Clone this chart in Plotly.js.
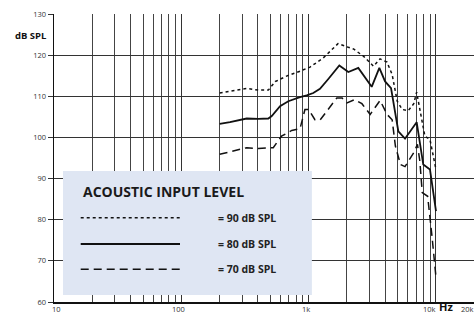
<!DOCTYPE html>
<html><head><meta charset="utf-8">
<script src="https://cdn.plot.ly/plotly-3.0.1.min.js"></script>
<style>html,body{margin:0;padding:0;background:#fff;}#chart{width:474px;height:315px;}</style>
</head><body><div id="chart"></div>
<script>
// 90 dB SPL input (dotted)
const freq90 = [200, 241, 326, 402, 482, 548, 670, 855, 1025, 1300, 1700, 2049, 2250, 2705, 3230, 3640, 4125, 4525, 4960, 5435, 6050, 6690, 7050, 7470, 8180, 8970, 10000];
const spl90  = [110.8, 111.2, 111.9, 111.5, 111.5, 113.6, 114.9, 116.1, 117.1, 119.3, 122.8, 121.9, 121.5, 119.7, 117.3, 119.1, 118.3, 115.3, 108.8, 106.8, 106.5, 108.2, 111.0, 106.8, 100.3, 99.5, 92.2];
// 80 dB SPL input (solid)
const freq80 = [200, 241, 326, 402, 482, 513, 596, 692, 855, 966, 1087, 1227, 1427, 1741, 2049, 2454, 3126, 3590, 3981, 4436, 5060, 5711, 7050, 7947, 8970, 10000];
const spl80  = [103.3, 103.7, 104.6, 104.5, 104.6, 105.2, 107.6, 108.8, 109.8, 110.2, 110.8, 111.8, 114.2, 117.5, 115.9, 116.9, 112.3, 116.9, 113.6, 112.0, 101.5, 99.7, 103.7, 93.4, 92.2, 82.1];
// 70 dB SPL input (dashed)
const freq70 = [200, 256, 326, 402, 527, 612, 736, 855, 935, 1000, 1120, 1227, 1427, 1665, 1830, 2000, 2300, 2620, 3040, 3640, 4125, 4525, 4800, 5260, 5711, 6690, 7150, 7470, 7800, 8600, 9300, 10000];
const spl70  = [95.9, 96.7, 97.5, 97.3, 97.5, 100.3, 101.7, 102.1, 106.8, 106.8, 104.3, 104.2, 106.8, 109.6, 109.6, 108.4, 109.2, 108.2, 105.6, 109.0, 105.6, 104.3, 97.9, 93.4, 92.9, 96.3, 98.3, 94.2, 86.6, 85.7, 76.0, 66.0];

const xTickVals = [10, 100, 1000, 10000];
const xTickText = ['10', '100', '1k', '10k'];
const yTickVals = [60, 70, 80, 90, 100, 110, 120, 130];
const legendLabels = ['= 90 dB SPL', '= 80 dB SPL', '= 70 dB SPL'];
const legendTitle = 'ACOUSTIC INPUT LEVEL';

const FONT = '"Open Sans", "DejaVu Sans", sans-serif';
const dashes = ['3px,3px', 'solid', '8px,5px'];
const widths = [1.5, 1.8, 1.5];

const traces = [
  {x: freq90, y: spl90, dash: dashes[0], w: widths[0]},
  {x: freq80, y: spl80, dash: dashes[1], w: widths[1]},
  {x: freq70, y: spl70, dash: dashes[2], w: widths[2]}
].map(t => ({type: 'scatter', mode: 'lines', x: t.x, y: t.y, showlegend: false, hoverinfo: 'skip',
  line: {color: '#111', width: t.w, dash: t.dash}}));

const legendY = [0.2927, 0.2014, 0.1135];
const shapes = [
  {type: 'rect', xref: 'paper', yref: 'paper', x0: 0.0214, x1: 0.614, y0: 0.0243, y1: 0.4549,
   fillcolor: '#dfe6f3', line: {width: 0}, layer: 'above'}
];
const labelShift = [2, -3, -3, -6];
const annotations = [
  {xref: 'paper', yref: 'paper', x: 0.0636, y: 0.383, xanchor: 'left', yanchor: 'middle', showarrow: false,
   text: '<b>' + legendTitle + '</b>', font: {family: FONT, size: 14, color: '#1a1a1a'}},
  {xref: 'paper', yref: 'paper', x: -0.0983, y: 0.927, xanchor: 'left', yanchor: 'middle', showarrow: false,
   text: '<b>dB SPL</b>', font: {family: FONT, size: 9.5, color: '#111'}},
  {xref: 'paper', yref: 'paper', x: 0.9345, y: -0.017, xanchor: 'center', yanchor: 'middle', showarrow: false,
   text: '<b>Hz</b>', font: {family: FONT, size: 11, color: '#111'}, borderpad: 0},
  {xref: 'paper', yref: 'paper', x: 0.9857, y: -0.0243, xanchor: 'center', yanchor: 'middle', showarrow: false,
   text: '20k', font: {family: FONT, size: 7.5, color: '#333'}}
];
xTickVals.forEach((v, i) => {
  annotations.push({xref: 'x', yref: 'paper', x: Math.log10(v), y: -0.0243, xanchor: 'center', yanchor: 'middle',
    xshift: labelShift[i], showarrow: false, text: xTickText[i], font: {family: FONT, size: 7.5, color: '#333'}});
});
legendLabels.forEach((lab, i) => {
  shapes.push({type: 'line', xref: 'paper', yref: 'paper', x0: 0.0636, x1: 0.3, y0: legendY[i], y1: legendY[i],
    line: {color: '#111', width: widths[i], dash: dashes[i]}, layer: 'above'});
  annotations.push({xref: 'paper', yref: 'paper', x: 0.385, y: legendY[i], xanchor: 'left', yanchor: 'middle',
    showarrow: false, text: '<b>' + lab + '</b>', font: {family: FONT, size: 10.5, color: '#222'}});
});

const layout = {
  width: 474, height: 315,
  margin: {l: 54, r: 0, t: 14, b: 13},
  paper_bgcolor: '#fff', plot_bgcolor: '#fff',
  font: {family: FONT, size: 8, color: '#333'},
  xaxis: {type: 'log', range: [1, 4.2985], tickmode: 'array', tickvals: xTickVals, showticklabels: false,
    showgrid: true, gridcolor: '#333', gridwidth: 1, ticks: '', showline: true, linecolor: '#111', linewidth: 1.5,
    zeroline: false,
    minor: {dtick: 'D1', showgrid: true, gridcolor: '#444', gridwidth: 1, ticks: ''}},
  yaxis: {range: [60, 130], tickmode: 'array', tickvals: yTickVals, showgrid: true, gridcolor: '#333', gridwidth: 1.2,
    ticks: 'outside', ticklen: 5, tickcolor: '#333', showline: true, linecolor: '#111', linewidth: 1.5,
    tickfont: {size: 7.5, color: '#333'}, zeroline: false},
  shapes: shapes,
  annotations: annotations
};

Plotly.newPlot('chart', traces, layout, {staticPlot: true, displayModeBar: false});
</script>
</body></html>
